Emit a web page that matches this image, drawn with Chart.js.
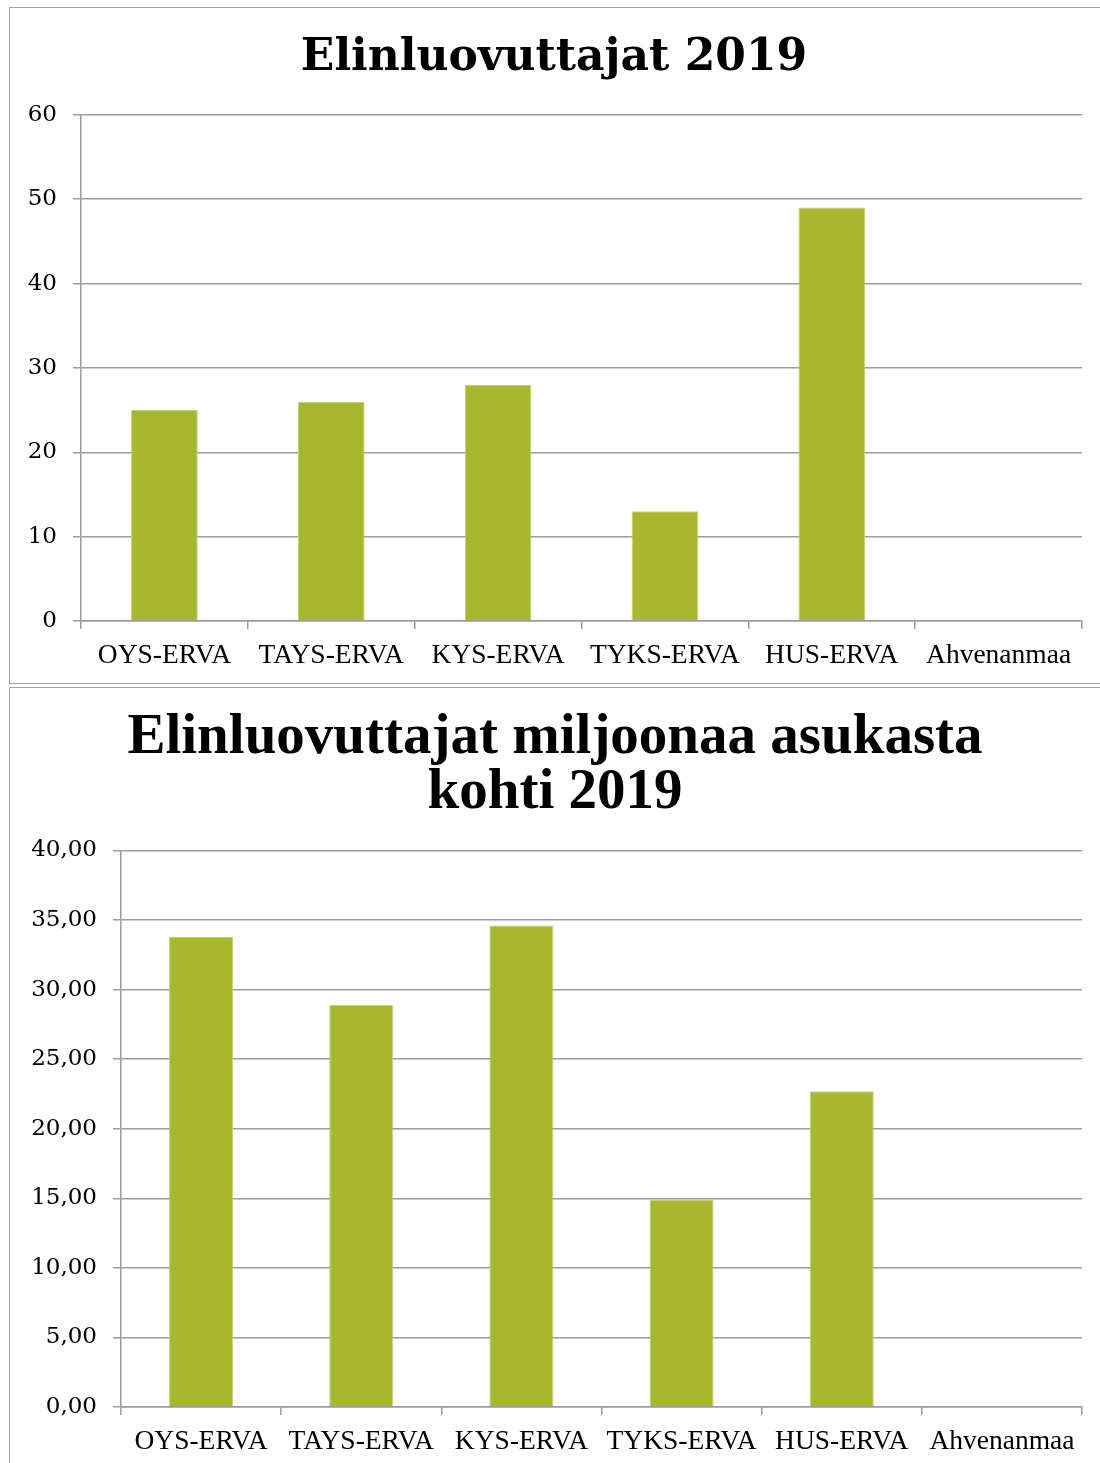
<!DOCTYPE html>
<html>
<head>
<meta charset="utf-8">
<script src="https://cdn.jsdelivr.net/npm/chart.js@4.4.1/dist/chart.umd.min.js"></script>
<style>
  html, body { margin: 0; padding: 0; background: #fff; overflow: hidden; }
  .frame { position: absolute; left: 9px; border: 1px solid #a3a3a3; }
  #frame1 { top: 7px; }
  #frame2 { top: 687px; }
  .box { position: relative; width: 1090px; }
  #frame1 .box { height: 675px; }
  #frame2 .box { height: 775px; }
</style>
</head>
<body>
<div class="frame" id="frame1"><div class="box"><canvas id="chartDonors"></canvas></div></div>
<div class="frame" id="frame2"><div class="box"><canvas id="chartPerMillion"></canvas></div></div>
<script>
// ── data ──────────────────────────────────────────────────────────────────
const CATEGORIES = ['OYS-ERVA', 'TAYS-ERVA', 'KYS-ERVA', 'TYKS-ERVA', 'HUS-ERVA', 'Ahvenanmaa'];
const DONORS_2019 = [25, 26, 28, 13, 49, 0];
const DONORS_PER_MILLION = [33.8, 28.9, 34.6, 14.9, 22.7, 0];
const TITLE_DONORS = 'Elinluovuttajat 2019';
const TITLE_PER_MILLION = ['Elinluovuttajat miljoonaa asukasta', 'kohti 2019'];

Chart.defaults.animation = false;
Chart.defaults.color = '#000';

const _green     = '#a7b82f';
const _greenEdge = '#c6d474';
const _grid      = '#9c9c9c';
const _xFont     = { family: '"Liberation Serif", serif', size: 27.5 };
const _yFont     = { family: '"DejaVu Serif", serif', size: 23 };

function barChart(id, cfg) {
  return new Chart(document.getElementById(id), {
    type: 'bar',
    data: {
      labels: CATEGORIES,
      datasets: [{
        data: cfg.values,
        backgroundColor: _green,
        borderColor: _greenEdge,
        borderWidth: 1,
        borderSkipped: 'bottom',
        categoryPercentage: 1,
        barPercentage: 0.4
      }]
    },
    options: {
      responsive: true,
      maintainAspectRatio: false,
      layout: { padding: { left: cfg.padLeft, right: 18, top: 0, bottom: 0 } },
      plugins: {
        legend: { display: false },
        tooltip: { enabled: false },
        title: { display: true, text: cfg.title, color: '#000', font: cfg.titleFont, padding: cfg.titlePad }
      },
      scales: {
        x: {
          grid: { drawOnChartArea: false, color: _grid, lineWidth: 1.5, tickLength: 8, offset: true },
          border: { color: _grid, width: 1.5 },
          ticks: { font: _xFont, color: '#000', padding: 10, autoSkip: false, maxRotation: 0 },
          afterFit: s => { s.height = cfg.xHeight; }
        },
        y: {
          min: 0, max: cfg.max,
          ticks: { stepSize: cfg.step, font: _yFont, color: '#000', padding: 16, callback: cfg.fmt },
          grid: { color: _grid, lineWidth: 1.5, tickLength: 8 },
          border: { color: _grid, width: 1.5 },
          afterFit: s => { s.width = cfg.yWidth; }
        }
      }
    }
  });
}

// ── 1. Donors 2019 ────────────────────────────────────────────────────────
barChart('chartDonors', {
  values: DONORS_2019,
  title: TITLE_DONORS,
  titleFont: { family: '"DejaVu Serif", serif', size: 44, weight: 'bold', lineHeight: 1.2 },
  titlePad: { top: 24, bottom: 30 },
  max: 60, step: 10,
  fmt: v => String(v),
  padLeft: 16, yWidth: 55, xHeight: 62
});

// ── 2. Donors per million inhabitants 2019 ────────────────────────────────
barChart('chartPerMillion', {
  values: DONORS_PER_MILLION,
  title: TITLE_PER_MILLION,
  titleFont: { family: '"Liberation Serif", serif', size: 57, weight: 'bold', lineHeight: 0.96 },
  titlePad: { top: 23, bottom: 30 },
  max: 40, step: 5,
  fmt: v => v.toFixed(2).replace('.', ','),
  padLeft: 18, yWidth: 93, xHeight: 56
});
</script>
</body>
</html>
